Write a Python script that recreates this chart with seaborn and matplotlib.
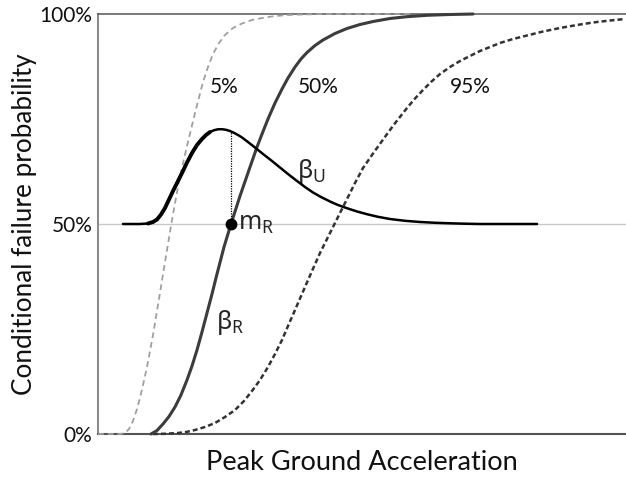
import numpy as np
import pandas as pd
import matplotlib
matplotlib.use("Agg")
import matplotlib.pyplot as plt
import seaborn as sns

# ---------------- data ----------------
# x: Peak ground acceleration (gal, arbitrary scale, axis spans 0..528)
# y: conditional failure probability in %
x_p05 = [0, 22, 25, 28, 31, 35, 39, 42, 45, 49, 55, 61, 67, 74, 81, 89, 97,
         105, 110, 115, 121, 127, 135, 144, 154, 164, 177, 190, 207, 222, 312]
y_p05 = [0.0, 0.0, 0.12, 0.48, 1.19, 3.10, 5.95, 8.57, 11.67, 15.95, 23.57,
         32.14, 40.95, 50.95, 60.24, 68.57, 76.43, 83.81, 87.38, 90.48, 93.10,
         95.00, 96.67, 97.74, 98.57, 99.05, 99.52, 99.76, 99.90, 99.98, 100.0]

x_p50 = [53, 59, 65, 71, 77, 83, 89, 94, 99, 104, 109, 114, 119, 126, 133,
         142, 151, 159, 165, 170, 177, 184, 190, 197, 203, 209, 217, 225, 237,
         249, 262, 275, 292, 309, 329, 349, 375]
y_p50 = [0.0, 0.83, 2.38, 4.17, 6.43, 9.29, 12.86, 16.19, 20.00, 24.29, 28.81,
         33.33, 38.10, 44.52, 50.00, 56.67, 62.86, 68.33, 72.02, 75.00, 78.81,
         82.14, 84.76, 87.38, 89.29, 90.83, 92.50, 93.81, 95.36, 96.55, 97.50,
         98.21, 98.93, 99.36, 99.69, 99.86, 100.0]

x_p95 = [55, 67, 80, 89, 97, 107, 117, 127, 137, 146, 154, 162, 170, 177, 184,
         190, 197, 202, 207, 214, 222, 229, 237, 243, 249, 257, 265, 274, 284,
         296, 309, 317, 325, 333, 342, 352, 362, 372, 382, 392, 402, 415, 429,
         445, 462, 479, 495, 512, 527]
y_p95 = [0.0, 0.05, 0.24, 0.52, 0.95, 1.67, 2.62, 4.05, 5.71, 7.86, 10.24,
         12.86, 15.95, 19.05, 22.38, 25.71, 29.52, 32.26, 35.00, 38.81, 43.10,
         46.43, 50.24, 53.10, 55.95, 59.76, 63.33, 66.43, 69.76, 73.69, 77.62,
         79.88, 81.90, 83.81, 85.71, 87.38, 88.81, 90.00, 91.19, 92.14, 93.10,
         94.05, 94.88, 95.83, 96.67, 97.38, 97.98, 98.45, 98.81]

# uncertainty distribution (beta_U), drawn on top of the 50% baseline
x_bu = [25, 42, 50, 55, 59, 63, 67, 71, 75, 79, 84, 89, 94, 99, 104, 108, 112,
        116, 120, 124, 128, 132, 136, 140, 144, 150, 157, 165, 174, 182, 190,
        199, 207, 215, 223, 232, 240, 249, 259, 269, 280, 292, 307, 322, 337,
        352, 367, 382, 439]
y_bu = [50.0, 50.0, 50.12, 50.48, 51.07, 52.26, 53.81, 55.83, 57.86, 59.76,
        62.14, 64.64, 66.90, 68.81, 70.24, 71.19, 71.90, 72.33, 72.55, 72.57,
        72.43, 72.14, 71.71, 71.19, 70.60, 69.52, 68.21, 66.67, 65.00, 63.45,
        61.90, 60.24, 58.81, 57.50, 56.43, 55.36, 54.52, 53.76, 52.98, 52.33,
        51.71, 51.19, 50.76, 50.48, 50.29, 50.17, 50.07, 50.0, 50.0]

median_x = 133        # m_R
median_y = 50.0
peak_y = 72.1         # beta_U value above m_R

yticks = [0, 50, 100]
ytick_labels = ["0%", "50%", "100%"]
curve_labels = ["5%", "50%", "95%"]
curve_label_x = [126, 220, 372]
curve_label_y = 82.6

# ---------------- style ----------------
sns.set_style("white")
plt.rcParams["font.family"] = ["Lato", "DejaVu Sans"]
plt.rcParams["mathtext.fontset"] = "custom"
plt.rcParams["mathtext.rm"] = "Noto Sans"
plt.rcParams["mathtext.it"] = "Noto Sans:italic"
plt.rcParams["mathtext.bf"] = "Noto Sans:bold"

fig = plt.figure(figsize=(6.26, 4.79), dpi=100)
ax = fig.add_axes([98 / 626, 45 / 479, 528 / 626, 420 / 479])

def draw(x, y, color, lw, dashes=None, z=3):
    sns.lineplot(x=x, y=y, ax=ax, color=color, linewidth=lw,
                 estimator=None, sort=False)
    ln = ax.lines[-1]
    ln.set_clip_on(False)
    ln.set_zorder(z)
    ln.set_solid_capstyle("round")
    ln.set_solid_joinstyle("round")
    if dashes is not None:
        ln.set_dashes(dashes)
    return ln

draw(x_p05, y_p05, "#a0a0a0", 1.3, dashes=(3.2, 2.2))
draw(x_p95, y_p95, "#333333", 1.8, dashes=(2.0, 1.2))
draw(x_p50, y_p50, "#3c3c3c", 2.2)
draw(x_bu, y_bu, "#000000", 1.8, z=4)
draw(x_bu[2:17], y_bu[2:17], "#000000", 2.8, z=4)

# dotted line from m_R up to beta_U curve
ax.plot([median_x, median_x], [median_y, peak_y], color="black", lw=0.9,
        linestyle=(0, (1, 1)), zorder=4)
ax.plot([median_x], [median_y], marker="o", markersize=7.5, color="black",
        zorder=5, clip_on=False)

# text labels
for lab, xx in zip(curve_labels, curve_label_x):
    ax.text(xx, curve_label_y, lab, ha="center", va="center", fontsize=15,
            color="#111111")
ax.text(199, 62.5, r"$\mathrm{\beta_U}$", ha="left", va="center", fontsize=18)
ax.text(140, 48.6, r"$\mathrm{m_R}$", ha="left", va="baseline", fontsize=18)
ax.text(118, 25.0, r"$\mathrm{\beta_R}$", ha="left", va="baseline", fontsize=18)

# axes
ax.set_xlim(0, 528)
ax.set_ylim(0, 100)
ax.set_yticks(yticks)
ax.set_yticklabels(ytick_labels)
ax.set_xticks([])
ax.tick_params(axis="y", length=0, pad=4, labelsize=15, labelcolor="#111111")
ax.axhline(50, color="#c8c8c8", lw=1.0, zorder=1)

ax.spines["right"].set_visible(False)
ax.spines["top"].set_color("#555555")
ax.spines["top"].set_linewidth(1.1)
ax.spines["bottom"].set_color("#555555")
ax.spines["bottom"].set_linewidth(1.5)
ax.spines["left"].set_color("#8c8c8c")
ax.spines["left"].set_linewidth(1.5)

ax.set_xlabel("Peak Ground Acceleration", fontsize=19.5, color="#111111", va="center")
ax.xaxis.set_label_coords(0.5, -0.067)
ax.set_ylabel("Conditional failure probability", fontsize=18.8, color="#111111",
              va="center")
ax.yaxis.set_label_coords(-0.14, 0.5)

fig.savefig("out.png", dpi=100)
